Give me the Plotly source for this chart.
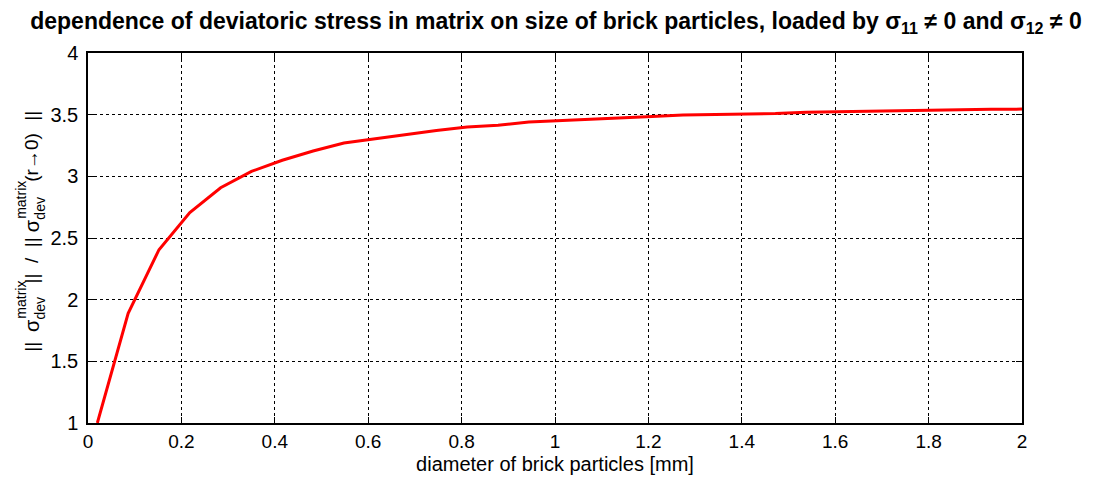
import plotly.graph_objects as go

# brick particle diameter [mm]
diameter = [0.02, 0.086, 0.152, 0.218, 0.284, 0.35, 0.416, 0.482, 0.548, 0.614,
            0.68, 0.746, 0.812, 0.878, 0.944, 1.01, 1.076, 1.142, 1.208, 1.274,
            1.34, 1.406, 1.472, 1.538, 1.604, 1.67, 1.736, 1.802, 1.868, 1.934, 2.0]
# normalised deviatoric stress norm in the matrix
stress_ratio = [1.0, 1.89, 2.405, 2.706, 2.907, 3.04, 3.13, 3.205, 3.27, 3.305,
                3.34, 3.372, 3.40, 3.415, 3.44, 3.45, 3.46, 3.47, 3.485, 3.497,
                3.50, 3.507, 3.51, 3.52, 3.522, 3.53, 3.532, 3.535, 3.542, 3.543, 3.545]

x_ticks = [0, 0.2, 0.4, 0.6, 0.8, 1, 1.2, 1.4, 1.6, 1.8, 2]
x_tick_text = ["0", "0.2", "0.4", "0.6", "0.8", "1", "1.2", "1.4", "1.6", "1.8", "2"]
y_ticks = [1, 1.5, 2, 2.5, 3, 3.5, 4]
y_tick_text = ["1", "1.5", "2", "2.5", "3", "3.5", "4"]

W, H = 1112, 484
L, R, T, B = 88, 90, 53, 53
FONT = "Liberation Sans, Arial, sans-serif"

fig = go.Figure()
fig.add_trace(go.Scatter(x=diameter, y=stress_ratio, mode="lines",
                         line=dict(color="#ff0000", width=3), showlegend=False))

axis_common = dict(showline=True, linecolor="black", linewidth=1.5, mirror="ticks",
                   ticks="inside", ticklen=6, tickcolor="black",
                   showgrid=True, gridcolor="black", gridwidth=1, griddash="dot",
                   zeroline=False)

fig.update_xaxes(range=[0, 2], tickvals=x_ticks, ticktext=x_tick_text,
                 tickfont=dict(family=FONT, size=19, color="black"),
                 title=dict(text="diameter of brick particles [mm]",
                            font=dict(family=FONT, size=20, color="black"), standoff=6),
                 **axis_common)
fig.update_yaxes(range=[1, 4], tickvals=y_ticks, ticktext=y_tick_text,
                 tickfont=dict(family=FONT, size=20, color="black"), ticklabelstandoff=4,
                 **axis_common)


def px_x(px):
    return (px - L) / (W - L - R)


def px_y(py):
    return 1 - (py - T) / (H - T - B)


# rotated y-axis label built from pieces so sub/superscripts stack
label_parts = [
    ("||", 32, 353, 19),
    ("σ", 32, 332, 20),
    ("matrix", 21, 305, 14),
    ("dev", 40, 314, 14),
    ("||  /  ||", 32, 265, 19),
    ("σ", 32, 230, 20),
    ("matrix", 21, 203, 14),
    ("dev", 40, 212, 14),
    ("(r→0)", 32, 160, 19),
    ("||", 32, 117, 19),
]
for text, cx, cy, size in label_parts:
    fig.add_annotation(text=text, xref="paper", yref="paper", x=px_x(cx), y=px_y(cy),
                       xanchor="center", yanchor="middle", textangle=-90, showarrow=False,
                       font=dict(family=FONT, size=size, color="black"))

fig.update_layout(
    width=W, height=H,
    margin=dict(l=L, r=R, t=T, b=B),
    paper_bgcolor="white", plot_bgcolor="white",
    title=dict(text="<b>dependence of deviatoric stress in matrix on size of brick particles, "
                    "loaded by σ<sub>11</sub> ≠ 0 and σ<sub>12</sub> ≠ 0</b>",
               x=0.5, xanchor="center", y=1 - 21 / H, yanchor="middle",
               font=dict(family=FONT, size=23, color="black")),
)

fig.write_html("out.html")
